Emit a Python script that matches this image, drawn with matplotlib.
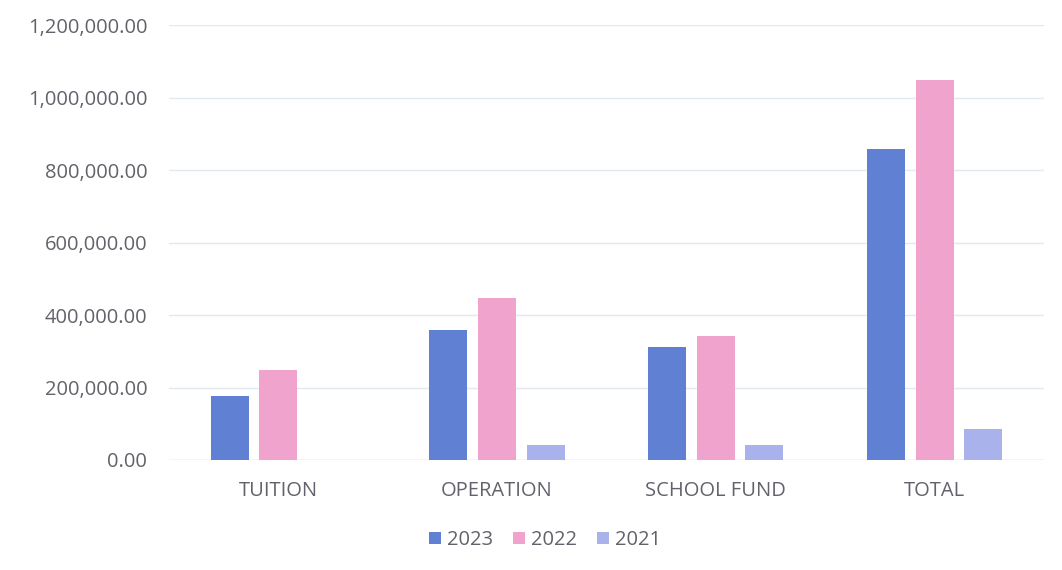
import matplotlib
matplotlib.use("Agg")
import matplotlib.pyplot as plt
import numpy as np
from matplotlib.ticker import FuncFormatter

categories = ["TUITION", "OPERATION", "SCHOOL FUND", "TOTAL"]
series_names = ["2023", "2022", "2021"]
values_2023 = [177000, 359000, 313000, 857000]
values_2022 = [248000, 446000, 342000, 1048000]
values_2021 = [0, 41000, 40000, 86000]
colors = ["#5f80d3", "#f0a3cd", "#a9b2ea"]

plt.rcParams['font.family'] = ['Open Sans', 'DejaVu Sans']

fig = plt.figure(figsize=(10.62, 5.70), dpi=100)
ax = fig.add_axes([0.159, 0.193, 0.824, 0.763])

x = np.arange(len(categories))
width = 0.174
step = 0.222
handles = []
for i, (name, vals) in enumerate(zip(series_names, [values_2023, values_2022, values_2021])):
    b = ax.bar(x + (i - 1) * step, vals, width, color=colors[i], label=name, zorder=3)
    handles.append(b)

ax.set_xlim(-0.5, len(categories) - 0.5)
ax.set_ylim(0, 1200000)
ax.set_yticks(np.arange(0, 1200001, 200000))
ax.yaxis.set_major_formatter(FuncFormatter(lambda v, p: f"{v:,.2f}"))
ax.set_xticks(x)
ax.set_xticklabels(categories)

for s in ax.spines.values():
    s.set_visible(False)
ax.grid(axis='y', color='#e2eaf0', linewidth=1.0, zorder=0)
ax.axhline(0, color='#d5e2ea', linewidth=1.0, zorder=2)
ax.tick_params(axis='both', length=0, colors='#62626c', labelsize=14.5)
ax.tick_params(axis='y', pad=15.5)
ax.tick_params(axis='x', pad=15)

fig.legend(handles=handles, labels=series_names, loc='center',
           bbox_to_anchor=(545 / 1062, 1 - 540 / 570), ncol=3, frameon=False,
           fontsize=14.5, handlelength=0.6, handleheight=0.6,
           handletextpad=0.3, columnspacing=1.0, labelcolor='#62626c')

fig.savefig("out.png", dpi=100, facecolor='white')
